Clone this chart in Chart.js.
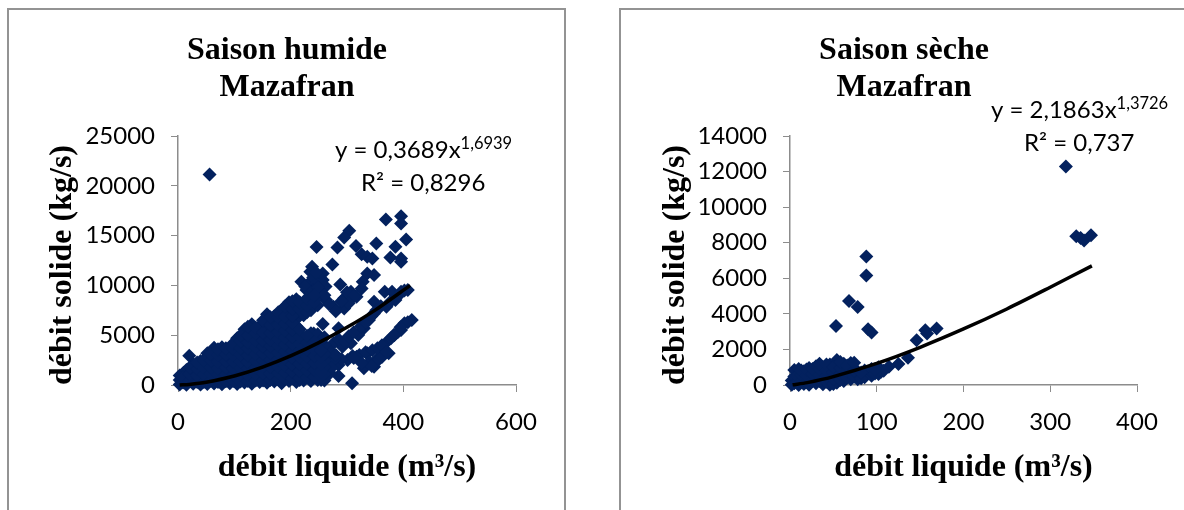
<!DOCTYPE html>
<html lang="fr">
<head>
  <meta charset="UTF-8" />
  <title>Mazafran</title>
  <script src="https://cdn.jsdelivr.net/npm/chart.js"></script>
  <style>
    html, body { margin: 0; padding: 0; background: #fff; overflow: hidden; width: 1184px; height: 510px; }
    .panel { position: absolute; top: 8px; height: 520px; box-sizing: border-box; border: 2px solid #939393; }
    #panelHumide { left: 7px; width: 559px; }
    #panelSeche { left: 619px; width: 580px; }
    canvas { position: absolute; top: 0; }
    #chartHumide { left: 7px; }
    #chartSeche { left: 620px; }
  </style>
</head>
<body>
  <div class="panel" id="panelHumide"></div>
  <div class="panel" id="panelSeche"></div>
  <canvas id="chartHumide" width="560" height="510"></canvas>
  <canvas id="chartSeche" width="568" height="510"></canvas>

  <script>
    const xTitle = 'débit liquide (m³/s)';
    const yTitle = 'débit solide (kg/s)';
    const titleHumide = ['Saison humide', 'Mazafran'];
    const titleSeche = ['Saison sèche', 'Mazafran'];
    const eqHumide = ['y = 0,3689x', '1,6939', 'R² = 0,8296'];
    const eqSeche = ['y = 2,1863x', '1,3726', 'R² = 0,737'];

    // (debit liquide, debit solide)
    const pointsHumide = [
      [56,21140],[369,16620],[396,16950],[396,16220],[405,14600],[386,13880],[352,14210],[304,15480],[295,14800],[316,13950],
      [283,13810],[246,13850],[326,13140],[336,12880],[345,12710],[377,12810],[396,12710],[396,12370],[274,12100],[238,11870],
      [257,11200],[235,11370],[336,11200],[348,11040],[328,10370],[326,9700],[288,10100],[219,10370],[232,10200],[257,10530],
      [228,9530],[307,9360],[295,8700],[317,8860],[295,7690],[348,8360],[367,9360],[380,9360],[396,9360],[408,9530],
      [386,8530],[370,7860],[348,7190],[339,6520],[330,5690],[320,5020],[307,4180],[292,3850],[257,6120],[241,5180],
      [285,5690],[276,7860],[263,8530],[254,9200],[415,6520],[402,6190],[396,5520],[383,5020],[371,4350],[364,3510],
      [374,3180],[355,2680],[348,1840],[330,1670],[336,3180],[317,2840],[301,2510],[285,2010],[266,1840],[250,1500],
      [285,900],[309,170],[254,500],[235,500],[216,500],[184,170],[20,2940],[10,1240],
      [276,4200],[285,4600],[296,4400],[303,4900],[312,5300],[325,5900],[334,6300],[343,6900],[352,7500],[360,7900],[376,8300],[392,9000],[402,9500],
      [290,2600],[310,2900],[322,3000],[333,3300],[345,3500],[354,3700],[362,4000],[378,4700],[390,5300],[408,6300],[395,5800],[384,5000],
      [340,2300],[352,2300],[362,2800],[370,3300],[344,1900],[326,2200],[312,2700],
      [270,2300],[278,2600],[262,2800],[270,3400],[280,3000],[270,1200],[272,1700],
      [300,9300],[312,8900],[303,8200],[290,8400],
      [240,10800],[246,10200],[250,9700],[240,9500],[226,9900],[262,9900],[245,11300],[268,8100],[280,7400],
      [3,40],[3,500],[3,950],[15,30],[15,380],[15,1000],[15,1500],
      [27,120],[27,780],[27,1450],[27,2100],[40,60],[40,450],[40,1100],[40,1750],[40,2400],
      [52,90],[52,760],[52,1420],[52,2100],[52,2800],[52,3200],
      [64,150],[64,500],[64,1150],[64,1820],[64,2500],[64,3150],[64,3750],
      [78,70],[78,800],[78,1480],[78,2150],[78,2820],[78,3450],[78,3800],
      [92,180],[92,480],[92,1150],[92,1800],[92,2450],[92,3100],[92,3650],
      [105,100],[105,820],[105,1500],[105,2180],[105,2850],[105,3500],[105,4200],[105,4700],
      [118,250],[118,560],[118,1200],[118,1880],[118,2540],[118,3220],[118,3900],[118,4600],[118,5300],[118,5600],
      [131,130],[131,880],[131,1560],[131,2250],[131,2920],[131,3600],[131,4280],[131,4950],[131,5500],[131,6100],
      [145,300],[145,600],[145,1250],[145,1900],[145,2600],[145,3260],[145,3950],[145,4620],[145,5200],[145,5900],
      [158,220],[158,950],[158,1620],[158,2300],[158,2980],[158,3700],[158,4300],[158,5000],[158,6000],[158,6700],[158,7100],
      [171,350],[171,650],[171,1300],[171,1980],[171,2660],[171,3350],[171,4050],[171,4700],[171,5400],[171,6300],[171,6900],
      [184,1000],[184,1680],[184,2360],[184,3050],[184,3750],[184,4400],[184,5100],[184,5800],[184,6500],[184,7200],[184,7500],
      [197,400],[197,700],[197,1350],[197,2050],[197,2720],[197,3400],[197,4100],[197,4800],[197,5500],[197,6200],[197,6900],[197,7700],[197,8300],
      [210,300],[210,1050],[210,1750],[210,2430],[210,3100],[210,3800],[210,4500],[210,5200],[210,5900],[210,6600],[210,7300],[210,8000],[210,8600],
      [223,450],[223,780],[223,1420],[223,2100],[223,2800],[223,3500],[223,4200],[223,4800],[223,7000],[223,7700],[223,8200],
      [236,400],[236,1100],[236,1800],[236,2500],[236,3150],[236,3900],[236,4600],[236,5200],[236,7500],[236,8600],[236,9300],
      [248,500],[248,850],[248,1500],[248,2150],[248,2850],[248,3500],[248,4300],[248,5100],[248,8000],[248,8900],[248,9800],
      [260,450],[260,1100],[260,1800],[260,2450],[260,3150],[260,4000],[260,4800],[260,9000],
      // denser part of the cloud
      [9,250],[9,750],[21,400],[21,1100],[21,1750],[34,300],[34,950],[34,1600],[34,2250],
      [46,300],[46,1050],[46,1700],[46,2450],[58,420],[58,1120],[58,1780],[58,2450],[58,3100],
      [71,300],[71,1000],[71,1650],[71,2320],[71,3000],[71,3600],[85,380],[85,1050],[85,1720],[85,2380],[85,3050],[85,3700],
      [98,400],[98,1000],[98,1650],[98,2300],[98,2980],[98,3650],[98,4200],
      [111,350],[111,1050],[111,1700],[111,2350],[111,3050],[111,3700],[111,4400],[111,5000],
      [124,400],[124,1000],[124,1650],[124,2300],[124,2950],[124,3650],[124,4300],[124,5000],[124,5850],
      [138,450],[138,1100],[138,1750],[138,2400],[138,3100],[138,3800],[138,4450],[138,5200],[138,5750],
      [151,450],[151,1150],[151,1800],[151,2450],[151,3150],[151,3850],[151,4500],[151,5300],[151,6500],
      [164,500],[164,1150],[164,1800],[164,2500],[164,3200],[164,3900],[164,4550],[164,5200],[164,6000],[164,6800],
      [178,550],[178,1200],[178,1850],[178,2550],[178,3250],[178,3950],[178,4600],[178,5300],[178,6000],[178,6800],[178,7300],
      [190,600],[190,1250],[190,1950],[190,2650],[190,3350],[190,4050],[190,4750],[190,5450],[190,6150],[190,6850],[190,7900],
      [203,650],[203,1350],[203,2050],[203,2750],[203,3450],[203,4150],[203,4850],[203,5550],[203,6250],[203,6950],[203,7650],[203,8400],
      [216,700],[216,1400],[216,2100],[216,2750],[216,3450],[216,4150],[216,4850],[216,5600],[216,7600],[216,8300],
      [229,750],[229,1450],[229,2150],[229,2850],[229,3550],[229,4250],[229,4950],[229,7300],[229,8000],[229,8700],
      [242,800],[242,1500],[242,2200],[242,2900],[242,3600],[242,4300],[242,8300],[242,9000],
      [254,900],[254,1300],[254,2100],[254,2800],[254,3500]
    ];
    const trendHumide = [[3,2],[20,59],[50,278],[100,900],[150,1791],[200,2914],[250,4256],[300,5788],[350,7518],[412,10000]];

    const pointsSeche = [
      [318,12280],[330,8360],[335,8270],[339,8120],[347,8420],[88,7220],[88,6160],[68,4720],[78,4390],[53,3320],
      [90,3140],[94,2950],[146,2520],[156,3080],[158,2890],[169,3170],[136,1530],[125,1180],[114,1030],[105,750],
      [2,20],[2,250],[5,100],[5,480],[5,850],[10,0],[10,300],[10,650],[10,900],
      [16,60],[16,420],[16,780],[22,20],[22,300],[22,650],[22,950],
      [30,100],[30,480],[30,820],[30,1050],[38,40],[38,320],[38,680],[38,1000],
      [46,10],[46,200],[46,560],[46,900],[46,1150],[54,120],[54,420],[54,780],[54,1100],[54,1400],
      [62,230],[62,600],[62,950],[62,1200],[70,330],[70,680],[70,1000],[70,1230],
      [78,330],[78,560],[78,760],[86,430],[86,620],[86,820],[94,520],[94,720],[94,900],
      [102,620],[102,800],[102,1000],[108,800],
      // denser part of the cloud
      [8,150],[8,500],[13,200],[13,560],[13,820],[19,180],[19,540],[19,870],[26,250],[26,600],[26,900],
      [34,230],[34,560],[34,900],[34,1200],[42,180],[42,500],[42,820],[42,1150],[50,60],[50,350],[50,700],[50,1000],
      [58,280],[58,620],[58,950],[58,1300],[66,420],[66,780],[66,1100],[74,460],[74,820],[74,1250],[82,380],[82,700],[98,640],[98,880]
    ];
    const trendSeche = [[3,9],[20,134],[50,470],[100,1216],[150,2122],[200,3150],[250,4275],[300,5497],[348,6700]];

    const toXY = pairs => pairs.map(p => ({ x: p[0], y: p[1] }));

    // equation next to the trend line, with the exponent raised
    const equationPlugin = {
      id: 'equation',
      afterDraw(chart, args, opts) {
        const c = chart.ctx;
        c.save();
        c.fillStyle = '#000';
        c.textAlign = 'left';
        c.textBaseline = 'alphabetic';
        c.font = '24px Lato';
        c.fillText(opts.text[0], opts.x, opts.y);
        const w = c.measureText(opts.text[0]).width;
        c.fillText(opts.text[2], opts.rx, opts.y + 33);
        c.font = '16.5px Lato';
        c.fillText(opts.text[1], opts.x + w, opts.y - 9);
        c.restore();
      }
    };

    function scatterChart(id, title, points, trend, xMax, xStep, yMax, yStep, plotLeft, rightPad, eq) {
      return new Chart(document.getElementById(id), {
        type: 'scatter',
        data: {
          datasets: [
            {
              data: toXY(trend), showLine: true, borderColor: '#000', borderWidth: 3.5,
              pointRadius: 0, tension: 0.3, order: 0, clip: false
            },
            {
              data: toXY(points), pointStyle: 'rectRot', pointRadius: 7,
              backgroundColor: '#03215e', borderColor: '#03215e', borderWidth: 0, order: 1, clip: false
            }
          ]
        },
        options: {
          responsive: false,
          animation: false,
          plugins: {
            legend: { display: false },
            tooltip: { enabled: false },
            title: {
              display: true,
              text: title,
              color: '#000',
              font: { family: 'Liberation Serif', weight: 'bold', size: 32, lineHeight: 37 / 32 },
              padding: { top: 32, bottom: 30 }
            },
            equation: eq
          },
          scales: {
            x: {
              type: 'linear', min: 0, max: xMax,
              // right margin goes on the scale so the title stays centred on the canvas
              afterFit(s) { s.height = 125; s.paddingRight = rightPad; },
              border: { color: '#8c8c8c', width: 1.5 },
              grid: { drawOnChartArea: false, color: '#8c8c8c', tickLength: 7 },
              ticks: { stepSize: xStep, color: '#000', padding: 16, maxRotation: 0, font: { family: 'Lato', size: 24 } },
              title: {
                display: true, text: xTitle, color: '#000',
                font: { family: 'Liberation Serif', weight: 'bold', size: 32 },
                padding: { top: 0, bottom: 23 }
              }
            },
            y: {
              type: 'linear', min: 0, max: yMax,
              afterFit(s) { s.width = plotLeft; },
              border: { color: '#8c8c8c', width: 1.5 },
              grid: { drawOnChartArea: false, color: '#8c8c8c', tickLength: 7 },
              ticks: {
                stepSize: yStep, color: '#000', padding: 16, font: { family: 'Lato', size: 24 },
                callback: v => String(v)
              },
              title: {
                display: true, text: yTitle, color: '#000', align: 'start',
                font: { family: 'Liberation Serif', weight: 'bold', size: 32 },
                padding: { top: 37, bottom: 0 }
              }
            }
          }
        },
        plugins: [equationPlugin]
      });
    }

    scatterChart('chartHumide', titleHumide, pointsHumide, trendHumide, 600, 200, 25000, 5000, 171, 51,
      { text: eqHumide, x: 328, y: 158, rx: 354 });
    scatterChart('chartSeche', titleSeche, pointsSeche, trendSeche, 400, 100, 14000, 2000, 170, 51,
      { text: eqSeche, x: 371, y: 118, rx: 404 });
  </script>
</body>
</html>
